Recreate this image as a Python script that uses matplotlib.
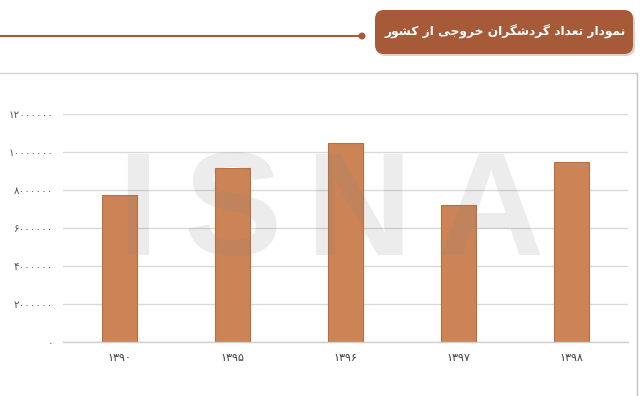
import matplotlib
matplotlib.use("Agg")
import matplotlib.pyplot as plt
from matplotlib.patches import FancyBboxPatch, Circle
import numpy as np

# ---------------- data ----------------
categories = ["۱۳۹۰", "۱۳۹۵", "۱۳۹۶", "۱۳۹۷", "۱۳۹۸"]
values = [7720000, 9140000, 10490000, 7210000, 9490000]
yticks = [0, 2000000, 4000000, 6000000, 8000000, 10000000, 12000000]
ytick_labels = ["۰", "۲۰۰۰۰۰۰", "۴۰۰۰۰۰۰", "۶۰۰۰۰۰۰", "۸۰۰۰۰۰۰", "۱۰۰۰۰۰۰۰", "۱۲۰۰۰۰۰۰"]
title = "نمودار تعداد گردشگران خروجی از کشور"
watermark = ["I", "S", "N", "A"]

# ------------- minimal Arabic/Persian shaping for display -------------
FORMS = {  # iso, fin, ini, med
    "ن": ("\uFEE5", "\uFEE6", "\uFEE7", "\uFEE8"),
    "م": ("\uFEE1", "\uFEE2", "\uFEE3", "\uFEE4"),
    "ت": ("\uFE95", "\uFE96", "\uFE97", "\uFE98"),
    "ع": ("\uFEC9", "\uFECA", "\uFECB", "\uFECC"),
    "گ": ("\uFB92", "\uFB93", "\uFB94", "\uFB95"),
    "ش": ("\uFEB5", "\uFEB6", "\uFEB7", "\uFEB8"),
    "خ": ("\uFEA5", "\uFEA6", "\uFEA7", "\uFEA8"),
    "ج": ("\uFE9D", "\uFE9E", "\uFE9F", "\uFEA0"),
    "ی": ("\uFBFC", "\uFBFD", "\uFBFE", "\uFBFF"),
    "ک": ("\uFB8E", "\uFB8F", "\uFB90", "\uFB91"),
    "و": ("\uFEED", "\uFEEE", None, None),
    "د": ("\uFEA9", "\uFEAA", None, None),
    "ا": ("\uFE8D", "\uFE8E", None, None),
    "ر": ("\uFEAD", "\uFEAE", None, None),
    "ز": ("\uFEAF", "\uFEB0", None, None),
}


def shape(s):
    out = []
    n = len(s)
    for i, ch in enumerate(s):
        if ch not in FORMS:
            out.append(ch)
            continue
        f = FORMS[ch]
        dual = f[2] is not None
        prev = s[i - 1] if i > 0 else None
        nxt = s[i + 1] if i < n - 1 else None
        jp = prev in FORMS and FORMS[prev][2] is not None
        jn = dual and nxt in FORMS
        if jp and jn:
            out.append(f[3])
        elif jp:
            out.append(f[1])
        elif jn:
            out.append(f[2])
        else:
            out.append(f[0])
    return "".join(out)[::-1]


plt.rcParams["font.family"] = ["DejaVu Sans"]

fig = plt.figure(figsize=(6.4, 3.96), dpi=100)
fig.patch.set_facecolor("white")

# background/decoration layer in pixel coordinates
bg = fig.add_axes([0, 0, 1, 1], zorder=0)
bg.set_xlim(0, 640)
bg.set_ylim(396, 0)
bg.axis("off")

brown = "#a65a38"
bg.plot([0, 362], [36, 36], color=brown, lw=1.5, solid_capstyle="butt")
bg.add_patch(Circle((362, 36), 2.8, color=brown))
bg.plot([0, 637], [73, 73], color="#d4d4d4", lw=1)
bg.plot([637, 637], [73, 396], color="#c4c4c4", lw=1)
bg.add_patch(FancyBboxPatch((377, 12), 258, 44,
                            boxstyle="round,pad=0,rounding_size=9",
                            fc="#9b6646", ec="none", alpha=0.3, zorder=1))
bg.add_patch(FancyBboxPatch((375, 10), 258, 44,
                            boxstyle="round,pad=0,rounding_size=9",
                            fc=brown, ec="none", zorder=2))
bg.text(505, 32, shape(title), color="white", fontsize=8.8, fontweight="bold",
        ha="center", va="center", zorder=3)

# main chart
ax = fig.add_axes([63 / 640, 54 / 396, 565 / 640, 228 / 396], zorder=2)
ax.patch.set_alpha(0)
x = np.arange(len(categories))
ax.bar(x, values, width=0.31, color="#cc8456", edgecolor="#b9703f", lw=0.8, zorder=2)
ax.set_xlim(-0.5, len(categories) - 0.5)
ax.set_ylim(0, 12000000)
ax.set_yticks(yticks)
ax.set_yticklabels(ytick_labels)
ax.set_xticks(x)
ax.set_xticklabels(categories)
ax.tick_params(axis="y", length=0, pad=7, labelsize=7.5, labelcolor="#555555")
ax.tick_params(axis="x", length=0, pad=8, labelsize=8, labelcolor="#444444")
ax.grid(axis="y", color="#d9d9d9", lw=1, zorder=0)
for s in ["left", "right", "top"]:
    ax.spines[s].set_visible(False)
ax.spines["bottom"].set_color("#d0d0d0")
ax.spines["bottom"].set_linewidth(1)

# watermark
wm = fig.add_axes([0, 0, 1, 1], zorder=3)
wm.set_xlim(0, 640)
wm.set_ylim(396, 0)
wm.axis("off")
for letter, px in zip(watermark, [138, 233, 358, 491]):
    wm.text(px, 217, letter, fontsize=106, color="#808080", alpha=0.15,
            ha="center", va="center", fontweight="bold",
            family=["Liberation Sans Narrow", "Liberation Sans"])

fig.savefig("out.png", dpi=100, facecolor="white")
